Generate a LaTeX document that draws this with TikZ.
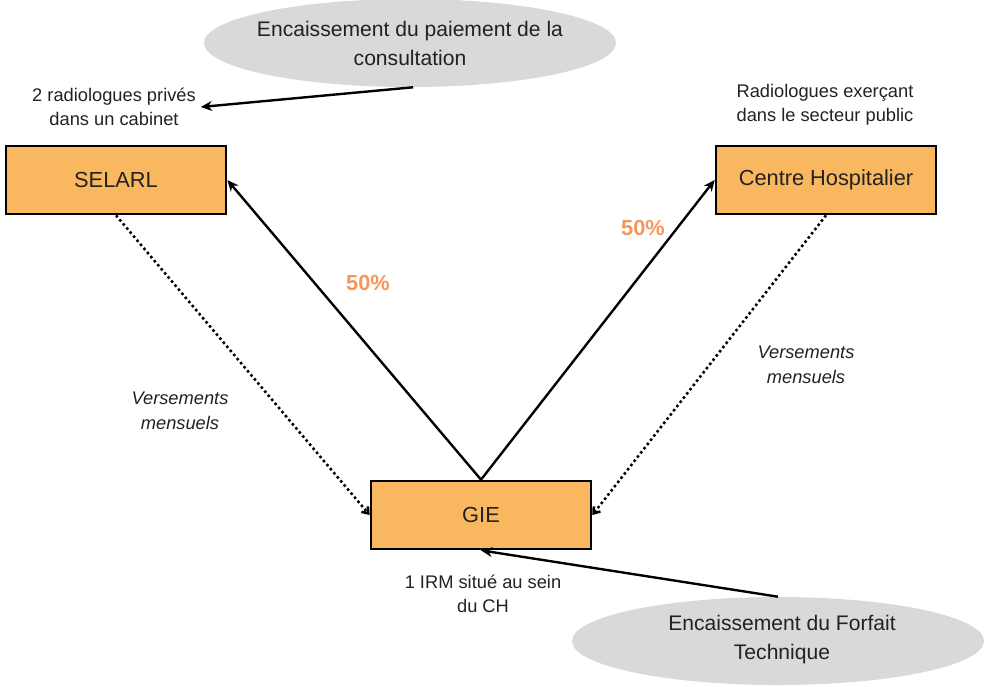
\documentclass[tikz,border=0pt]{standalone}
\usepackage{fontspec}
\setmainfont{Liberation Sans}
\usepackage{tikz}
\usetikzlibrary{shapes.geometric,arrows.meta}
\definecolor{boite}{HTML}{F9B85F}
\definecolor{bullegris}{HTML}{D9D9D9}
\definecolor{pourcent}{HTML}{F7965C}
\definecolor{texte}{HTML}{222222}

\begin{document}
\begin{tikzpicture}[x=0.025cm, y=-0.025cm,
    structure/.style={draw=black, line width=1.9pt, fill=boite, minimum width=5.5cm, minimum height=1.7cm, font=\fontsize{15.5}{19}\selectfont, text=texte},
    bulle/.style={ellipse, fill=bullegris, minimum width=10.3cm, minimum height=2.2cm},
    bulletexte/.style={align=center, font=\fontsize{15}{20.6}\selectfont, text=texte},
    note/.style={align=center, font=\fontsize{13}{17}\selectfont, text=texte},
    versement/.style={align=center, font=\fontsize{13}{18}\selectfont\itshape, text=texte},
    part/.style={font=\fontsize{15.5}{19}\selectfont\bfseries, text=pourcent},
    fleche/.style={-{Stealth[length=8pt,width=7pt]}, line width=1.7pt},
    flechepoint/.style={-{Straight Barb[length=4pt,width=6pt]}, line width=1.8pt, dotted}]
    \useasboundingbox (0,0) rectangle (985,686);

    % bulles
    \node [bulle] (paiement) at (410,43) {};
    \node [bulletexte] at (paiement) {Encaissement du paiement de la\\consultation};
    \node [bulle] (forfait) at (778,641) {};
    \node [bulletexte] at (782,640) {Encaissement du Forfait\\Technique};

    % structures
    \node [structure] (selarl) at (116,180) {SELARL};
    \node [structure] (ch) at (826,180) {Centre Hospitalier};
    \node [structure] (gie) at (481,515) {GIE};

    \node [note] (prives) at (114,107) {2 radiologues privés\\dans un cabinet};
    \node [note] (public) at (825,105) {Radiologues exerçant\\dans le secteur public};
    \node [note] (irm) at (483,594) {1 IRM situé au sein\\du CH};
    \node [versement] (versselarl) at (180,411) {Versements\\mensuels};
    \node [versement] (versch) at (806,365) {Versements\\mensuels};
    \node [part] (partselarl) at (368,283) {50\%};
    \node [part] (partch) at (643,228) {50\%};

    % fleches
    \draw [fleche] (gie.north) -- (selarl.east);
    \draw [fleche] (gie.north) -- (ch.west);
    \draw [flechepoint] (selarl.south) -- (gie.west);
    \draw [flechepoint] (ch.south) -- (gie.east);
    \draw [fleche] (paiement.-86) -- (prives.east);
    \draw [fleche] (forfait.north) -- (gie.south);
\end{tikzpicture}
\end{document}
